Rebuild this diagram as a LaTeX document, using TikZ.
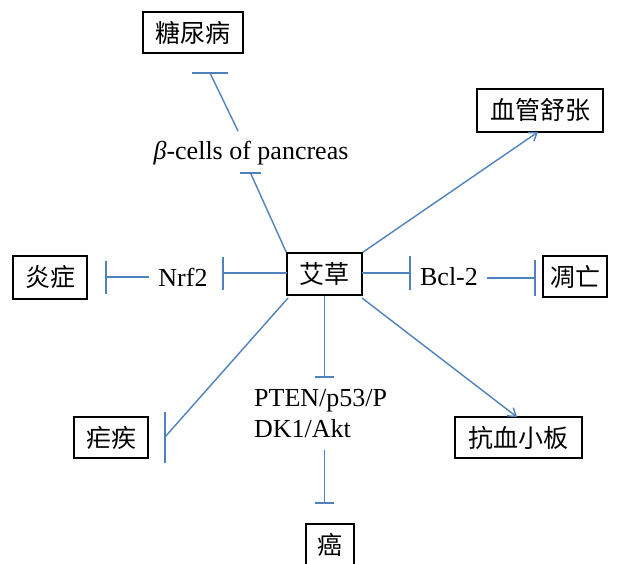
\documentclass[tikz,border=0pt]{standalone}
\usepackage{fontspec}
\setmainfont{Liberation Serif}
\newfontfamily\cjk{Noto Sans CJK SC}
\usetikzlibrary{arrows.meta}
\definecolor{linkblue}{RGB}{79,129,189}
\begin{document}
\begin{tikzpicture}[x=1pt,y=-1pt,
  box/.style={draw=black,line width=1.4pt,fill=white,inner sep=0pt,font=\cjk\fontsize{25}{30}\selectfont},
  lbl/.style={inner sep=0pt,font=\fontsize{26}{30}\selectfont},
  link/.style={draw=linkblue,line width=1.4pt},
  act/.style={link,-{Straight Barb[angle=70:9pt]}}]
\useasboundingbox (0,0) rectangle (618,564);
\clip (0,0) rectangle (618,564);
% nodes
\node[box,minimum width=75pt,minimum height=42pt] (herb) at (324.5,274) {艾草};
\node[box,minimum width=100pt,minimum height=41pt] (tnb) at (193,32.5) {糖尿病};
\node[box,minimum width=126pt,minimum height=43pt] (xg) at (540,110.5) {血管舒张};
\node[box,minimum width=74pt,minimum height=43pt] (yz) at (50,277.5) {炎症};
\node[box,minimum width=64pt,minimum height=41pt] (dw) at (575,276.5) {凋亡};
\node[box,minimum width=74pt,minimum height=41pt] (nj) at (111,437.5) {疟疾};
\node[box,minimum width=127pt,minimum height=41pt] (kxb) at (518.5,437.5) {抗血小板};
\node[box,minimum width=48pt,minimum height=41pt] (ai) at (330,544.5) {癌};
\node[lbl] (beta) at (251,153) {\textit{β}-cells of pancreas};
\node[lbl] (nrf) at (183,277) {Nrf2};
\node[lbl] (bcl) at (449,277) {Bcl-2};
\node[lbl,align=left,anchor=west,font=\fontsize{26}{31}\selectfont] (pten) at (254,414) {PTEN/p53/P\\DK1/Akt};
% connector end coordinates
\coordinate (sb) at (238,131);
\coordinate (bb1) at (250.5,173);
\coordinate (bb2) at (210,73);
\coordinate (sh1) at (287,273);
\coordinate (bn1) at (223,273);
\coordinate (sn) at (149,277);
\coordinate (bn2) at (106,277);
\coordinate (sh2) at (362,273);
\coordinate (bc1) at (410,273);
\coordinate (sc) at (487,278);
\coordinate (bc2) at (535,278);
\coordinate (sq) at (288,298);
\coordinate (bq) at (165,437);
\coordinate (bp1) at (324.5,377);
\coordinate (sp) at (324.5,450);
\coordinate (bp2) at (324.5,503);
\coordinate (ex) at (538,132);
\coordinate (sk) at (362,298);
\coordinate (ek) at (517,417);
% inhibition links
\draw[link] (herb.north west) -- (bb1);
\draw[link] ([xshift=-10.5pt]bb1) -- ([xshift=10.5pt]bb1);
\draw[link] (sb) -- (bb2);
\draw[link] ([xshift=-18pt]bb2) -- ([xshift=18pt]bb2);
\draw[link] (sh1) -- (bn1);
\draw[link] ([yshift=-16.5pt]bn1) -- ([yshift=16.5pt]bn1);
\draw[link] (sn) -- (bn2);
\draw[link] ([yshift=-16.5pt]bn2) -- ([yshift=16.5pt]bn2);
\draw[link] (sh2) -- (bc1);
\draw[link] ([yshift=-17pt]bc1) -- ([yshift=17pt]bc1);
\draw[link] (sc) -- (bc2);
\draw[link] ([yshift=-18pt]bc2) -- ([yshift=18pt]bc2);
\draw[link] (sq) -- (bq);
\draw[link] ([yshift=-26pt]bq) -- ([yshift=25pt]bq);
\draw[link] (herb.south) -- (bp1);
\draw[link] ([xshift=-9.5pt]bp1) -- ([xshift=9.5pt]bp1);
\draw[link] (sp) -- (bp2);
\draw[link] ([xshift=-9.5pt]bp2) -- ([xshift=9.5pt]bp2);
% activation links
\draw[act] (herb.north east) -- (ex);
\draw[act] (sk) -- (ek);
\end{tikzpicture}
\end{document}
